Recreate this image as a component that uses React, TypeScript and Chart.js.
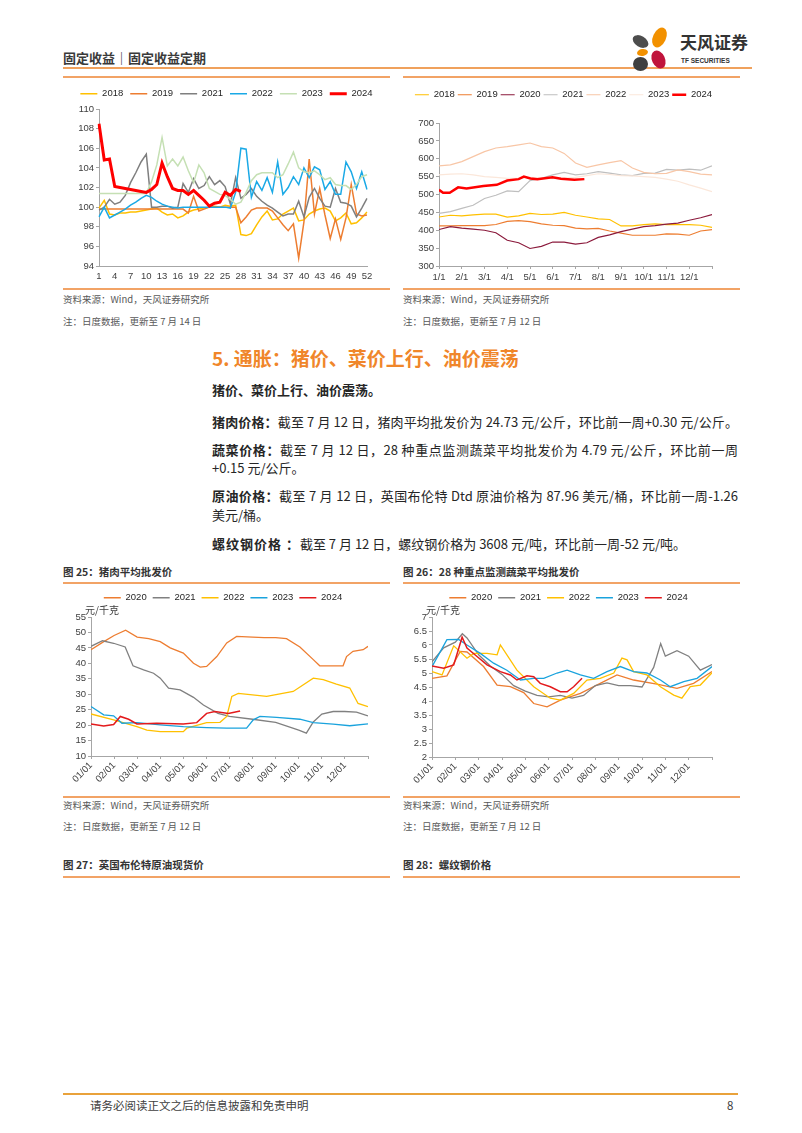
import React, { useEffect, useRef } from "react";
import { Chart, registerables } from "chart.js";
Chart.register(...registerables);

const FONT = "'Liberation Sans', Arial, sans-serif";
const CJK = "'Noto Sans CJK SC', 'Noto Sans', sans-serif";
const AXIS = "#A6A6A6";
const TICKC = "#404040";
const LINE_ORANGE = "#F2A366";

// ---------- Chart A (weekly index, top-left) ----------
const WEEKS = Array.from({ length: 52 }, (_, i) => String(i + 1));
const A_2018 = [99.9,100.7,99.3,99.2,99.4,99.4,99.5,99.5,99.6,99.7,99.8,99.9,99.5,99.2,99.3,98.9,99.1,99.5,99.7,99.8,99.9,100.0,100.1,100.0,100.2,100.1,100.2,97.2,97.1,97.3,98.2,99.0,99.6,98.7,98.8,99.3,99.6,99.9,98.6,98.7,99.3,99.6,99.8,99.9,99.6,98.6,98.9,99.4,98.3,98.4,98.9,99.5];
const A_2019 = [99.8,99.8,99.8,99.8,99.8,99.8,99.8,99.8,99.8,99.8,99.8,99.8,99.8,99.8,99.8,99.8,99.8,99.4,101.1,99.6,99.8,100.0,100.0,100.0,100.0,100.0,100.0,98.4,99.0,99.7,99.9,99.9,99.9,99.6,98.9,98.2,97.6,98.3,94.8,98.5,104.9,99.3,101.9,99.2,96.8,98.8,96.7,98.9,102.3,99.3,99.1,99.2];
const A_2021 = [99.7,100.0,100.8,100.3,100.5,101.2,102.5,103.5,104.6,105.4,100.0,100.0,100.1,100.1,99.9,100.0,102.4,101.5,102.9,101.9,102.2,103.1,102.3,102.7,102.1,100.3,103.0,100.9,101.3,101.9,101.1,100.6,100.2,99.9,99.5,99.1,99.3,99.3,100.6,99.0,101.0,101.9,100.9,100.1,100.0,101.9,100.5,100.4,100.1,99.0,99.9,100.9];
const A_2022 = [99.0,100.0,98.9,99.2,99.5,99.8,100.2,100.5,100.9,101.2,101.0,100.6,100.3,100.1,100.0,99.9,100.0,100.0,100.0,100.0,100.0,100.0,100.0,100.0,100.0,99.9,101.5,106.0,105.9,101.0,102.6,101.7,103.0,101.5,104.6,101.3,102.0,103.1,102.3,104.0,103.0,104.1,103.8,101.8,102.6,101.3,101.3,104.6,103.6,101.9,103.6,101.8];
const A_2023 = [101.4,101.4,101.4,101.4,101.4,101.4,101.4,101.4,101.4,101.4,102.6,104.3,107.1,104.2,104.9,104.2,105.1,103.7,102.5,104.3,103.5,101.9,101.6,101.3,101.2,100.8,100.3,100.5,101.5,102.7,103.3,103.5,103.5,103.5,103.0,103.3,104.4,105.6,104.0,103.6,103.5,103.7,103.3,102.8,103.0,102.3,102.2,102.2,101.8,102.3,103.1,103.3];
const A_2024 = [108.5,104.8,104.9,102.1,102.0,101.9,101.8,101.7,101.6,101.5,101.8,102.3,104.5,103.1,101.9,101.7,101.7,101.3,101.7,101.2,100.7,100.1,100.4,100.5,101.5,101.2,101.8,101.6];

// ---------- Chart B (daily, top-right), month units ----------
const HALF = [0,0.5,1,1.5,2,2.5,3,3.5,4,4.5,5,5.5,6,6.5,7,7.5,8,8.5,9,9.5,10,10.5,11,11.5,12];
const B_MONTHS = ["1/1","2/1","3/1","4/1","5/1","6/1","7/1","8/1","9/1","10/1","11/1","12/1"];
const B_2018 = [437,442,440,443,445,445,437,440,447,444,445,450,442,437,432,430,412,412,416,418,416,416,416,414,408];
const B_2019 = [412,412,413,413,413,416,425,427,424,418,414,413,406,404,405,398,392,386,386,386,390,389,386,398,402];
const B_2020 = [402,410,406,403,400,393,372,365,349,355,367,367,361,365,380,387,396,403,410,413,417,420,428,435,444];
const B_2021 = [447,452,461,470,489,498,510,508,539,545,555,562,555,558,564,560,555,553,559,560,570,568,571,568,580];
const B_2022 = [580,583,592,606,620,630,634,639,644,634,630,615,588,576,583,589,595,574,562,558,559,569,564,557,555];
const B_2023 = [555,557,558,555,550,548,545,546,548,546,544,546,548,553,558,556,553,552,550,548,543,537,527,518,508];
const B_2024_X = [0,0.18,0.47,0.84,1.21,1.95,2.54,3.0,3.5,3.73,4.02,4.32,4.99,5.36,5.95,6.39];
const B_2024 = [513,505,505,520,517,524,527,539,543,550,545,543,548,544,541,543];

// ---------- Chart 25 pork (month units) ----------
const MONTHS = ["01/01","02/01","03/01","04/01","05/01","06/01","07/01","08/01","09/01","10/01","11/01","12/01"];
const P20_X = [0,0.5,1.0,1.5,2.0,2.5,3.0,3.43,4.0,4.44,4.73,5.01,5.45,5.88,6.31,7.0,7.5,8.0,8.47,9.05,9.63,9.91,10.5,10.92,11.07,11.35,11.79,12];
const P20 = [44.4,46.8,49.0,50.7,48.5,48.0,47.0,45.0,43.3,40.0,38.8,39.0,42.2,46.6,48.7,48.5,48.3,48.3,48.0,45.3,41.2,39.2,39.2,39.2,42.2,43.9,44.4,45.5];
const P21_X = [0,0.5,0.98,1.48,1.82,2.28,2.71,3.0,3.36,3.86,4.44,4.87,5.5,6.0,7.0,8.0,9.0,9.33,9.63,10.0,10.49,10.99,11.5,12];
const P21 = [45.5,47.3,46.5,45.3,39.2,37.9,36.8,35.2,32.0,31.4,29.0,26.5,23.8,22.8,21.9,20.9,18.4,17.4,21.0,23.6,24.4,24.4,24.2,23.0];
const P22_X = [0,0.98,1.99,2.42,3.0,4.0,4.15,5.01,5.59,5.88,6.1,6.38,7.61,8.76,9.63,10.06,10.63,11.21,11.57,12];
const P22 = [23.6,21.7,19.5,18.4,17.9,17.9,19.0,20.8,20.9,22.8,29.3,30.3,29.3,30.9,35.2,34.7,33.3,32.0,27.0,26.0];
const P23_X = [0,0.55,0.98,1.34,1.99,3.0,4.0,5.01,5.88,6.74,7.03,7.32,8.04,9.05,9.63,10.49,11.21,12];
const P23 = [26.0,23.3,23.0,20.6,20.8,20.1,19.5,19.2,19.0,19.0,21.7,22.8,22.5,21.9,20.8,20.3,19.8,20.4];
const P24_X = [0,0.55,0.98,1.27,1.63,1.99,2.85,4.0,4.58,5.01,5.37,5.95,6.46];
const P24 = [20.4,19.7,20.2,22.8,21.9,20.4,20.6,20.4,20.8,23.8,24.4,23.8,24.6];

// ---------- Chart 26 vegetables (month units) ----------
const V20_X = [0,0.64,1.21,1.5,2.21,2.79,3.36,3.93,4.36,4.93,5.5,6.36,7.21,7.93,8.64,9.64,10.5,11.21,12];
const V20 = [4.81,4.9,5.77,5.75,5.23,4.57,4.51,4.3,3.91,3.79,4.03,4.27,4.63,4.93,4.75,4.6,4.45,4.63,5.05];
const V21_X = [0,0.5,1,1.3,1.5,2,2.5,3,3.5,4,4.5,5,5.5,6,6.5,7,7.5,8,8.5,9,9.5,9.8,10,10.5,11,11.5,12];
const V21 = [5.4,5.9,6.1,6.4,6.25,5.65,5.25,4.95,4.55,4.35,4.2,4.15,4.2,4.1,4.2,4.55,4.65,4.55,4.55,4.5,5.2,6.05,5.6,5.8,5.6,5.1,5.3];
const V22_X = [0,0.43,0.93,1.5,1.79,2.36,2.79,2.93,3.64,4.36,5.07,5.5,6.07,6.64,7.21,7.79,8.14,8.36,8.64,9.21,9.79,10.36,10.71,11.07,11.5,12];
const V22 = [5.05,4.93,5.97,5.53,5.7,5.7,5.65,6.0,5.1,4.51,4.1,4.03,4.27,4.75,4.81,5.0,5.53,5.47,5.05,4.93,4.51,4.21,4.1,4.51,4.57,5.01];
const V23_X = [0,0.64,1.14,1.5,2.07,2.64,3.21,3.79,4.36,4.79,5.36,5.79,6.36,6.93,7.5,8.07,8.64,9.21,9.79,10.21,10.79,11.36,12];
const V23 = [5.23,6.19,6.2,6.0,5.7,5.35,5.1,4.75,4.81,4.81,5.0,5.1,4.93,4.81,5.05,5.23,5.05,5.0,4.75,4.51,4.69,4.81,5.23];
const V24_X = [0,0.5,0.93,1.29,1.5,1.93,2.36,2.93,3.36,3.64,4.07,4.36,4.64,5.07,5.5,5.79,6.07,6.43];
const V24 = [5.25,5.17,5.29,6.28,5.89,5.59,5.29,5.05,4.93,4.75,4.9,4.87,4.63,4.51,4.33,4.33,4.51,4.81];

type S = { label: string; color: string; w: number; ys: number[]; xs?: number[] };

function ds(s: S, i: number, n: number) {
  return {
    label: s.label,
    data: s.xs ? s.xs.map((x, k) => ({ x, y: s.ys[k] })) : s.ys,
    borderColor: s.color,
    backgroundColor: s.color,
    borderWidth: s.w,
    pointRadius: 0,
    tension: 0,
    fill: false,
    order: n - i,
    yAxisID: "y",
  };
}

function legendFit(h: number) {
  return {
    id: "legendFit",
    beforeInit(chart: any) {
      const orig = chart.legend.fit;
      chart.legend.fit = function () {
        orig.bind(chart.legend)();
        this.height = h;
      };
    },
  };
}

function unitLabel(text: string) {
  return {
    id: "unitLabel",
    afterDraw(chart: any) {
      const { ctx, chartArea } = chart;
      ctx.save();
      ctx.font = `10px ${CJK}`;
      ctx.fillStyle = "#404040";
      ctx.textAlign = "left";
      ctx.textBaseline = "alphabetic";
      ctx.fillText(text, chartArea.left - 6, chartArea.top - 3);
      ctx.restore();
    },
  };
}

type Cfg = {
  series: S[];
  labels?: string[];
  legendH: number;
  legendPad: number;
  boxW: number;
  yMin: number; yMax: number; yStep: number;
  yW: number; xH: number; padR: number; layoutR?: number;
  xType: "category" | "linear";
  xLabels?: string[];
  rotate?: boolean;
  everyN?: number;
  unit?: string;
};

function build(cfg: Cfg): any {
  const n = cfg.series.length;
  const tickFont = { size: 9.5, family: FONT };
  const x: any =
    cfg.xType === "category"
      ? {
          type: "category",
          offset: false,
          grid: { display: true, drawOnChartArea: false, drawTicks: false, color: AXIS },
          border: { color: AXIS },
          ticks: {
            autoSkip: false, maxRotation: 0, minRotation: 0, padding: 5, font: tickFont, color: TICKC,
            callback: function (this: any, v: any, i: number) {
              return i % (cfg.everyN || 1) === 0 ? this.getLabelForValue(v) : "";
            },
          },
          afterFit: (s: any) => { s.height = cfg.xH; },
        }
      : {
          type: "linear", min: 0, max: 12,
          grid: { display: true, drawOnChartArea: false, drawTicks: true, tickLength: 3, color: AXIS },
          border: { color: AXIS },
          ticks: {
            stepSize: 1, autoSkip: false, padding: cfg.rotate ? 1 : 3,
            maxRotation: cfg.rotate ? 45 : 0, minRotation: cfg.rotate ? 45 : 0,
            font: tickFont, color: TICKC,
            callback: (v: any) => (cfg.xLabels as string[])[Math.round(v)] ?? "",
          },
          afterFit: (s: any) => { s.height = cfg.xH; },
        };
  return {
    type: "line",
    data: {
      labels: cfg.labels,
      datasets: cfg.series.map((s, i) => ds(s, i, n)),
    },
    options: {
      animation: false,
      responsive: false,
      maintainAspectRatio: false,
      devicePixelRatio: 1,
      layout: { padding: { left: 0, top: 0, bottom: 0, right: cfg.layoutR || 0 } },
      plugins: {
        tooltip: { enabled: false },
        legend: {
          display: true,
          position: "top",
          labels: {
            boxWidth: cfg.boxW, boxHeight: 0, padding: cfg.legendPad,
            font: { size: 9.5, family: FONT }, color: "#262626",
            sort: (a: any, b: any) => a.datasetIndex - b.datasetIndex,
          },
        },
      },
      scales: {
        x,
        y: {
          min: cfg.yMin, max: cfg.yMax,
          grid: { display: true, drawOnChartArea: false, drawTicks: true, tickLength: 3, color: AXIS },
          border: { color: AXIS },
          ticks: { stepSize: cfg.yStep, autoSkip: false, padding: 2, font: tickFont, color: TICKC, callback: (v: any) => String(+v) },
          afterFit: (s: any) => { s.width = cfg.yW; },
        },
        // empty right-hand spacer so the plot ends where the reference plot ends
        yr: {
          position: "right",
          display: true,
          grid: { display: false, drawTicks: false },
          border: { display: false },
          ticks: { display: false },
          afterFit: (s: any) => { s.width = cfg.padR; },
        },
      },
    },
    plugins: [legendFit(cfg.legendH), ...(cfg.unit ? [unitLabel(cfg.unit)] : [])],
  };
}

function ChartBox({ left, top, width, height, cfg }: { left: number; top: number; width: number; height: number; cfg: Cfg }) {
  const ref = useRef<HTMLCanvasElement | null>(null);
  useEffect(() => {
    const c = new Chart(ref.current as HTMLCanvasElement, build(cfg));
    return () => c.destroy();
  }, []);
  return (
    <canvas ref={ref} width={width} height={height}
      style={{ position: "absolute", left, top, width, height }} />
  );
}

const T = ({ x, y, size = 13, bold = false, color = "#262626", children, style = {} }: any) => (
  <div style={{ position: "absolute", left: x, top: y - size / 2, fontSize: size, lineHeight: `${size}px`,
    fontWeight: bold ? 700 : 400, color, fontFamily: CJK, whiteSpace: "nowrap", ...style }}>{children}</div>
);

const HLine = ({ x1, x2, y, w = 1.5, color = LINE_ORANGE }: any) => (
  <div style={{ position: "absolute", left: x1, top: y - w / 2, width: x2 - x1, height: w, background: color }} />
);

const Petal = ({ cx, cy, w, h, rot, color }: any) => (
  <div style={{ position: "absolute", left: cx - w / 2, top: cy - h / 2, width: w, height: h,
    borderRadius: "50%", background: color, transform: `rotate(${rot}deg)` }} />
);

const chartA: Cfg = {
  series: [
    { label: "2018", color: "#FFC000", w: 1.5, ys: A_2018 },
    { label: "2019", color: "#ED7D31", w: 1.5, ys: A_2019 },
    { label: "2021", color: "#7F7F7F", w: 1.5, ys: A_2021 },
    { label: "2022", color: "#1AA9E6", w: 1.5, ys: A_2022 },
    { label: "2023", color: "#C5E0B4", w: 1.5, ys: A_2023 },
    { label: "2024", color: "#FF0000", w: 3, ys: A_2024 },
  ],
  labels: WEEKS, legendH: 27, legendPad: 7, boxW: 17,
  yMin: 94, yMax: 110, yStep: 2, yW: 36, xH: 22, padR: 23,
  xType: "category", everyN: 3,
};

const chartB: Cfg = {
  series: [
    { label: "2018", color: "#FFC000", w: 1.2, xs: HALF, ys: B_2018 },
    { label: "2019", color: "#ED7D31", w: 1.2, xs: HALF, ys: B_2019 },
    { label: "2020", color: "#8B1A3C", w: 1.2, xs: HALF, ys: B_2020 },
    { label: "2021", color: "#BFBFBF", w: 1.2, xs: HALF, ys: B_2021 },
    { label: "2022", color: "#F8C6A6", w: 1.2, xs: HALF, ys: B_2022 },
    { label: "2023", color: "#FBE7DA", w: 1.2, xs: HALF, ys: B_2023 },
    { label: "2024", color: "#FF0000", w: 2.5, xs: B_2024_X, ys: B_2024 },
  ],
  legendH: 36, legendPad: 3, boxW: 14,
  yMin: 300, yMax: 700, yStep: 50, yW: 36, xH: 22, padR: 12, layoutR: 16,
  xType: "linear", xLabels: B_MONTHS, rotate: false,
};

const chart25: Cfg = {
  series: [
    { label: "2020", color: "#ED7D31", w: 1.3, xs: P20_X, ys: P20 },
    { label: "2021", color: "#808080", w: 1.3, xs: P21_X, ys: P21 },
    { label: "2022", color: "#FFC000", w: 1.3, xs: P22_X, ys: P22 },
    { label: "2023", color: "#1AA3DD", w: 1.3, xs: P23_X, ys: P23 },
    { label: "2024", color: "#E31A1C", w: 1.5, xs: P24_X, ys: P24 },
  ],
  legendH: 30, legendPad: 6, boxW: 17,
  yMin: 10, yMax: 55, yStep: 5, yW: 28, xH: 39, padR: 15,
  xType: "linear", xLabels: MONTHS, rotate: true, unit: "元/千克",
};

const chart26: Cfg = {
  series: [
    { label: "2020", color: "#ED7D31", w: 1.3, xs: V20_X, ys: V20 },
    { label: "2021", color: "#808080", w: 1.3, xs: V21_X, ys: V21 },
    { label: "2022", color: "#FFC000", w: 1.3, xs: V22_X, ys: V22 },
    { label: "2023", color: "#1AA3DD", w: 1.3, xs: V23_X, ys: V23 },
    { label: "2024", color: "#E31A1C", w: 1.5, xs: V24_X, ys: V24 },
  ],
  legendH: 30, legendPad: 6, boxW: 17,
  yMin: 2, yMax: 7, yStep: 0.5, yW: 29, xH: 39, padR: 22, layoutR: 6,
  xType: "linear", xLabels: MONTHS, rotate: true, unit: "元/千克",
};

const para: any = { width: 526, textAlign: "justify", textAlignLast: "justify" };

export default function App() {
  return (
    <div style={{ position: "absolute", left: 0, top: 0, width: 802, height: 1133, background: "#fff", overflow: "hidden", fontFamily: CJK }}>
      {/* header */}
      <T x={63} y={57} size={13} bold color="#3A3A3A">固定收益｜固定收益定期</T>
      <HLine x1={63} x2={752} y={68} w={2} color="#F0A15C" />
      <Petal cx={659} cy={37} w={13} h={21} rot={25} color="#F29100" />
      <Petal cx={640} cy={41} w={17} h={11} rot={30} color="#4D4D4D" />
      <Petal cx={642} cy={52} w={11} h={7} rot={-10} color="#F29100" />
      <Petal cx={640} cy={64} w={15} h={14} rot={0} color="#3F3F3F" />
      <Petal cx={658} cy={59} w={13} h={19} rot={-25} color="#C0143C" />
      <T x={680} y={41} size={17} bold color="#333">天风证券</T>
      <T x={681} y={61} size={6.5} bold color="#333" style={{ fontFamily: FONT }}>TF SECURITIES</T>

      {/* top charts */}
      <HLine x1={63} x2={390} y={77} w={1.5} />
      <HLine x1={403} x2={740} y={77} w={1.5} />
      <ChartBox left={63} top={82} width={327} height={206} cfg={chartA} />
      <ChartBox left={403} top={87} width={337} height={201} cfg={chartB} />
      <HLine x1={63} x2={390} y={289} w={1.5} />
      <HLine x1={403} x2={740} y={289} w={1.5} />
      <T x={63} y={300} size={9.5} color="#595959">资料来源：Wind，天风证券研究所</T>
      <T x={63} y={322} size={9.5} color="#595959">注：日度数据，更新至 7 月 14 日</T>
      <T x={403} y={300} size={9.5} color="#595959">资料来源：Wind，天风证券研究所</T>
      <T x={403} y={322} size={9.5} color="#595959">注：日度数据，更新至 7 月 12 日</T>

      {/* section text */}
      <T x={212} y={357} size={19} bold color="#F0862A">5. 通胀：猪价、菜价上行、油价震荡</T>
      <T x={212} y={389} size={13} bold>猪价、菜价上行、油价震荡。</T>
      <T x={212} y={421} size={13} style={para}><b>猪肉价格：</b>截至 7 月 12 日，猪肉平均批发价为 24.73 元/公斤，环比前一周+0.30 元/公斤。</T>
      <T x={212} y={449} size={13} style={para}><b>蔬菜价格：</b>截至 7 月 12 日，28 种重点监测蔬菜平均批发价为 4.79 元/公斤，环比前一周</T>
      <T x={212} y={467} size={13}>+0.15 元/公斤。</T>
      <T x={212} y={495} size={13} style={para}><b>原油价格：</b>截至 7 月 12 日，英国布伦特 Dtd 原油价格为 87.96 美元/桶，环比前一周-1.26</T>
      <T x={212} y={514} size={13}>美元/桶。</T>
      <T x={212} y={543} size={13}><b style={{ letterSpacing: 1 }}>螺纹钢价格 ：</b>截至 7 月 12 日，螺纹钢价格为 3608 元/吨，环比前一周-52 元/吨。</T>

      {/* figure 25 / 26 */}
      <T x={63} y={572} size={10.5} bold color="#333">图 25：猪肉平均批发价</T>
      <T x={403} y={572} size={10.5} bold color="#333">图 26：28 种重点监测蔬菜平均批发价</T>
      <HLine x1={63} x2={390} y={583} w={1.5} />
      <HLine x1={403} x2={740} y={583} w={1.5} />
      <ChartBox left={63} top={587} width={320} height={208} cfg={chart25} />
      <ChartBox left={403} top={587} width={337} height={209} cfg={chart26} />
      <HLine x1={63} x2={390} y={797} w={1.5} />
      <HLine x1={403} x2={740} y={797} w={1.5} />
      <T x={63} y={806} size={9.5} color="#595959">资料来源：Wind，天风证券研究所</T>
      <T x={63} y={827} size={9.5} color="#595959">注：日度数据，更新至 7 月 12 日</T>
      <T x={403} y={806} size={9.5} color="#595959">资料来源：Wind，天风证券研究所</T>
      <T x={403} y={827} size={9.5} color="#595959">注：日度数据，更新至 7 月 12 日</T>

      {/* figure 27 / 28 titles */}
      <T x={63} y={865} size={10.5} bold color="#333">图 27：英国布伦特原油现货价</T>
      <T x={403} y={865} size={10.5} bold color="#333">图 28：螺纹钢价格</T>
      <HLine x1={63} x2={390} y={877} w={1.5} />
      <HLine x1={403} x2={740} y={877} w={1.5} />

      {/* footer */}
      <HLine x1={63} x2={738} y={1094} w={2} color="#E9A23B" />
      <T x={90} y={1106} size={11.5} color="#404040">请务必阅读正文之后的信息披露和免责申明</T>
      <T x={727} y={1106} size={11.5} color="#404040">8</T>
    </div>
  );
}
